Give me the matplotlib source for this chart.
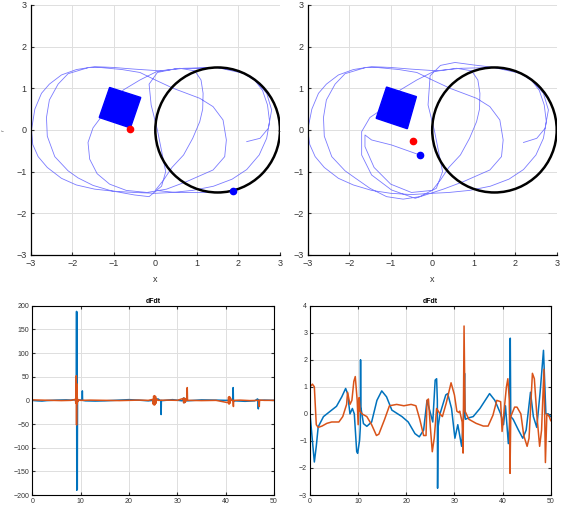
import matplotlib
matplotlib.use("Agg")
from matplotlib import pyplot as plt
from matplotlib.patches import Circle, Polygon

plt.rcParams['font.family'] = ['Liberation Sans', 'DejaVu Sans']

# --- trajectory, left run (x, y) ---
traj_a = [
    (2.2, -0.28), (2.52, -0.2), (2.72, 0.04), (2.8, 0.48), (2.68, 0.88), (2.44, 1.16),
    (2.12, 1.36), (1.48, 1.5), (0.68, 1.48), (0.1, 1.42), (-0.5, 1.46), (-1.0, 1.5),
    (-1.46, 1.52), (-1.9, 1.45), (-2.26, 1.32), (-2.55, 1.1), (-2.74, 0.88), (-2.9, 0.5),
    (-2.98, 0.0), (-2.95, -0.35), (-2.82, -0.64), (-2.6, -0.9), (-2.26, -1.16), (-1.9, -1.32),
    (-1.46, -1.42), (-1.0, -1.47), (-0.5, -1.5), (0.0, -1.52), (0.4, -1.5), (0.9, -1.45),
    (1.4, -1.35), (1.85, -1.18), (2.2, -0.95), (2.5, -0.6), (2.68, -0.2), (2.75, 0.2),
    (2.7, 0.6), (2.58, 0.95), (2.35, 1.25), (2.0, 1.42), (1.5, 1.5), (1.0, 1.48),
    (0.5, 1.47), (0.05, 1.38), (-0.15, 1.1), (-0.1, 0.6), (0.05, 0.0), (0.15, -0.5),
    (0.25, -1.0), (0.15, -1.35), (-0.15, -1.6), (-0.5, -1.56), (-1.06, -1.46), (-1.5, -1.33),
    (-1.86, -1.15), (-2.1, -0.98), (-2.42, -0.64), (-2.6, -0.15), (-2.62, 0.3), (-2.55, 0.72),
    (-2.34, 1.1), (-2.1, 1.35), (-1.6, 1.5), (-1.33, 1.5), (-0.8, 1.45), (-0.37, 1.38),
    (0.0, 1.2), (0.43, 1.0), (1.07, 0.76), (1.39, 0.56), (1.63, 0.24), (1.71, -0.24),
    (1.67, -0.64), (1.39, -0.96), (0.75, -1.24), (0.27, -1.42), (-0.2, -1.5), (-0.7, -1.45),
    (-1.1, -1.3), (-1.4, -1.05), (-1.58, -0.7), (-1.62, -0.3), (-1.5, 0.05), (-1.2, 0.45),
    (-0.77, 0.96), (-0.37, 1.2), (0.03, 1.4), (0.59, 1.48), (0.95, 1.42), (1.1, 1.2),
    (1.15, 0.88), (1.14, 0.5), (1.07, 0.2), (0.9, -0.2), (0.68, -0.6), (0.4, -0.9),
    (0.2, -1.2), (0.0, -1.45), (0.5, -1.5), (1.0, -1.5), (1.5, -1.5), (1.88, -1.46),
]

# --- trajectory, right run ---
traj_b = [
    (2.2, -0.3), (2.52, -0.2), (2.72, 0.04), (2.8, 0.48), (2.68, 0.88), (2.44, 1.16),
    (2.12, 1.36), (1.48, 1.5), (0.68, 1.48), (0.1, 1.42), (-0.5, 1.46), (-1.0, 1.5),
    (-1.46, 1.52), (-1.9, 1.45), (-2.26, 1.32), (-2.55, 1.1), (-2.74, 0.88), (-2.9, 0.5),
    (-3.0, 0.0), (-2.95, -0.35), (-2.82, -0.64), (-2.6, -0.9), (-2.26, -1.16), (-1.9, -1.32),
    (-1.46, -1.45), (-1.0, -1.52), (-0.5, -1.55), (0.0, -1.52), (0.4, -1.5), (0.9, -1.45),
    (1.4, -1.35), (1.85, -1.18), (2.2, -0.95), (2.5, -0.6), (2.68, -0.2), (2.75, 0.2),
    (2.7, 0.6), (2.58, 0.95), (2.35, 1.25), (2.0, 1.42), (1.5, 1.5), (1.0, 1.56),
    (0.55, 1.62), (0.2, 1.55), (-0.05, 1.3), (-0.1, 0.6), (0.05, 0.0), (0.15, -0.5),
    (0.25, -1.0), (0.1, -1.4), (-0.3, -1.6), (-0.7, -1.66), (-1.1, -1.6), (-1.5, -1.4),
    (-1.86, -1.15), (-2.1, -0.98), (-2.42, -0.64), (-2.6, -0.15), (-2.62, 0.3), (-2.55, 0.72),
    (-2.34, 1.1), (-2.1, 1.35), (-1.6, 1.5), (-1.33, 1.5), (-0.8, 1.45), (-0.37, 1.38),
    (0.0, 1.2), (0.43, 1.0), (1.07, 0.76), (1.39, 0.56), (1.63, 0.24), (1.71, -0.24),
    (1.67, -0.64), (1.39, -0.96), (0.75, -1.24), (0.27, -1.42), (-0.41, -1.64), (-0.98, -1.44),
    (-1.46, -1.08), (-1.7, -0.6), (-1.7, -0.04), (-1.5, 0.3), (-1.2, 0.5),
    (-0.77, 0.96), (-0.37, 1.2), (0.03, 1.4), (0.59, 1.48), (0.95, 1.42), (1.1, 1.2),
    (1.15, 0.88), (1.14, 0.5), (1.07, 0.2), (0.9, -0.2), (0.68, -0.6), (0.4, -0.9),
    (0.2, -1.2), (0.0, -1.45), (-0.5, -1.5), (-1.0, -1.3), (-1.4, -0.9), (-1.62, -0.4),
    (-1.62, -0.12), (-1.46, -0.24), (-0.98, -0.36), (-0.3, -0.6),
]

square_a = [(-1.35, 0.3), (-1.1, 1.02), (-0.35, 0.78), (-0.6, 0.05)]
square_b = [(-1.35, 0.28), (-1.1, 1.03), (-0.38, 0.8), (-0.6, 0.03)]
circle_center = (1.5, 0.0)
circle_radius = 1.5
red_a, blue_a = (-0.6, 0.02), (1.88, -1.46)
red_b, blue_b = (-0.47, -0.27), (-0.3, -0.6)

# --- dFdt, left run ---
t_a1 = [0, 1, 2, 3, 5, 7, 8, 8.8, 9.1, 9.15, 9.2, 9.25, 9.3, 9.35, 9.5, 10, 10.3, 10.35,
        10.4, 11, 13, 15, 18, 20, 22, 24, 25, 25.2, 25.3, 25.4, 25.5, 25.6, 26, 26.6,
        26.65, 26.7, 27, 29, 31, 31.3, 31.35, 31.4, 31.45, 31.5, 31.6, 32, 35, 38, 40,
        41.5, 41.55, 41.6, 42, 44, 46, 46.6, 46.7, 46.75, 46.8, 47, 48, 50]
v_a1 = [0, -1, -1.5, -0.5, 0.5, 1, 0.5, 1.5, -2, 188, -190, 186, -188, -2, 1, 0.5, 2, 20,
        0, -1, -1.5, -1, 0.5, 1.5, 0.5, -1, 0, 5, -6, 6, -5, 2, 3, -1,
        -30, 0, -0.5, 1.5, -1, 5, -5, 4, -4, 0, 1, -1, 1, 0.5, 0,
        0.5, 27, -2, -1, -2, -1, 3, -1, -18, 1, 0, 0.5, 0]
t_a2 = [0, 2, 4, 6, 8, 8.9, 9.0, 9.05, 9.1, 9.15, 9.2, 9.25, 9.3, 9.4, 9.5, 10, 12, 15,
        18, 20, 22, 24, 24.9, 25.0, 25.1, 25.2, 25.3, 25.4, 25.5, 25.6, 25.7, 26, 28, 30,
        31.2, 31.3, 31.4, 31.5, 31.6, 31.7, 31.8, 32.0, 32.05, 32.1, 32.2, 35, 38, 40.5,
        40.6, 40.7, 40.8, 40.9, 41.0, 41.1, 41.5, 41.6, 41.65, 41.7, 43, 45, 46.9, 46.95,
        47.0, 47.1, 48, 50]
v_a2 = [1, 0.5, 0, -0.5, 0, 2, -6, 8, 52, -52, 35, -8, 6, -3, 1, 0, 0.5, 0,
        -0.5, 0, 0.5, 0, 2, -8, 9, -10, 10, -9, 8, -6, 3, 0, 0.5, 0,
        4, -5, 5, -5, 4, -3, 1, 0, 27, 2, 0, -0.5, 0, -5,
        7, -8, 8, -6, 5, 0, 0, -13, -1, 0, 0.5, -0.5, 0, -13,
        0, 0.5, 0, 0]

# --- dFdt, right run ---
t_b1 = [0, 0.5, 0.9, 1.3, 1.7, 2.8, 4.5, 5.5, 6.6, 7.4, 7.8, 8.3, 8.8, 9.2, 9.7, 9.9,
        10.3, 10.45, 10.5, 10.55, 11.1, 11.8, 12.8, 13.9, 14.9, 15.9, 17.0, 19.1, 20.4,
        21.8, 22.7, 23.6, 24.3, 24.9, 25.5, 26.0, 26.3, 26.45, 26.5, 26.6, 27.0, 28.2,
        28.6, 29.4, 30.1, 30.7, 31.5, 31.9, 32.1, 32.2, 32.3, 32.9, 33.9, 35.3, 37.3,
        38.4, 39.6, 40.2, 40.6, 41.2, 41.5, 41.6, 41.7, 42.2, 43.3, 44.2, 44.9, 45.8,
        46.4, 47.1, 47.8, 48.5, 49.0, 49.5, 50]
v_b1 = [0, -1.0, -1.78, -1.2, -0.48, -0.1, 0.14, 0.28, 0.63, 0.94, 0.75, 0.0, 0.2, 0.0,
        -1.4, -1.46, -0.97, -0.5, 2.0, 0.26, -0.36, -0.46, -0.3, 0.5, 0.85, 0.63, 0.14,
        -0.1, -0.3, -0.73, -0.85, -0.6, 0.5, 0.1, -0.3, 1.25, 1.3, 0.5, -2.75, -0.5, 0.0,
        0.7, 0.75, 0.2, -0.9, -0.4, -1.2, -0.1, 1.5, -0.1, -0.2, -0.15, -0.1, 0.2, 0.75,
        0.5, 0.0, -0.4, 0.3, -1.1, -0.3, 2.8, -0.1, -0.2, -0.6, -0.9, -0.6, 0.8, -0.1,
        -0.5, 0.8, 2.35, 0.0, 0.0, -0.1]
t_b2 = [0, 0.5, 0.9, 1.3, 1.7, 2.5, 3.5, 4.5, 6.0, 6.8, 7.6, 7.8, 8.3, 8.7, 9.1, 9.4,
        9.8, 10.0, 10.2, 10.4, 10.8, 11.8, 12.8, 13.8, 14.3, 15.5, 16.5, 18, 19.5, 21,
        22.0, 22.8, 23.6, 24.1, 24.3, 24.6, 25.0, 25.4, 25.8, 26.3, 27, 27.5, 28.3, 29.3,
        30.0, 30.5, 30.9, 31.1, 31.6, 31.8, 32.0, 32.2, 33, 34.5, 36, 37, 38, 38.8, 39.6,
        39.9, 40.2, 40.8, 41.1, 41.4, 41.55, 41.7, 42.5, 43, 43.8, 44.4, 45.1, 45.5, 46.2,
        46.6, 47.1, 47.7, 48.1, 48.6, 48.9, 49.2, 49.7, 50]
v_b2 = [1.0, 1.1, 1.0, -0.4, -0.5, -0.45, -0.35, -0.3, -0.3, -0.1, 0.35, 0.8, 0.35, 0.5,
        1.2, 1.38, 0.5, -0.4, 0.6, 0.1, 0.0, -0.1, -0.4, -0.8, -0.75, -0.2, 0.3, 0.35,
        0.3, 0.35, 0.3, -0.2, -0.8, -0.8, 0.5, 0.55, -0.5, -1.4, -0.9, 0.2, 0.0, -0.1,
        0.4, 1.15, 0.7, 0.1, 0.05, 0.1, -0.3, -1.45, 3.25, 0.1, -0.2, -0.35, -0.45, -0.45,
        -0.05, 0.5, 0.45, -0.65, -0.1, 1.0, 1.3, 0.5, -2.2, -0.1, 0.25, 0.25, 0.0, -0.8,
        -1.2, -0.9, 1.5, 1.3, 0.0, -1.2, -0.6, 1.65, -1.8, 0.0, -0.1, -0.25]

blue = '#0072BD'
orange = '#D95319'
grid_c = '#dedede'

fig = plt.figure(figsize=(5.65, 5.12), dpi=100)


def top_axes(rect, traj, square, red, blue_pt):
    ax = fig.add_axes(rect)
    xs = [p[0] for p in traj]
    ys = [p[1] for p in traj]
    ax.plot(xs, ys, color=(0.35, 0.35, 1.0), lw=0.6, alpha=0.8, zorder=2,
            solid_joinstyle='round')
    ax.add_patch(Polygon(square, closed=True, color='#0000ff', zorder=3))
    ax.add_patch(Circle(circle_center, circle_radius, fill=False, color='black', lw=1.8, zorder=4))
    ax.plot(*red, 'o', color='red', ms=4.5, zorder=5)
    ax.plot(*blue_pt, 'o', color='#0000ff', ms=4.5, zorder=5)
    ax.set_xlim(-3, 3)
    ax.set_ylim(-3, 3)
    ax.set_xticks(range(-3, 4))
    ax.set_yticks(range(-3, 4))
    ax.grid(True, color=grid_c, lw=0.7)
    ax.set_axisbelow(True)
    for s in ['top', 'right']:
        ax.spines[s].set_visible(False)
    for s in ['left', 'bottom']:
        ax.spines[s].set_linewidth(0.9)
    ax.tick_params(direction='in', length=2, labelsize=6.5, colors='#333333', pad=3)
    ax.set_xlabel('x', fontsize=6.5, color='#333333', labelpad=5)
    ax.set_ylabel('y', fontsize=2, color='#333333', labelpad=8)
    return ax


def bottom_axes(rect, t1, v1, t2, v2, ylim, yticks):
    ax = fig.add_axes(rect)
    ax.plot(t1, v1, color=blue, lw=1.1)
    ax.plot(t2, v2, color=orange, lw=1.1)
    ax.set_xlim(0, 50)
    ax.set_ylim(*ylim)
    ax.set_yticks(yticks)
    ax.set_xticks(range(0, 51, 10))
    ax.grid(True, color=grid_c, lw=0.7)
    ax.set_axisbelow(True)
    for s in ax.spines.values():
        s.set_linewidth(0.8)
    ax.tick_params(direction='in', length=2, labelsize=5, colors='#333333', pad=2,
                   top=True, right=True)
    ax.set_title('dFdt', fontsize=5, fontweight='bold', pad=2)
    return ax


top_axes([0.0543, 0.502, 0.4412, 0.4883], traj_a, square_a, red_a, blue_a)
top_axes([0.5446, 0.502, 0.4407, 0.4883], traj_b, square_b, red_b, blue_b)
bottom_axes([0.0572, 0.0332, 0.4278, 0.3697], t_a1, v_a1, t_a2, v_a2,
            (-200, 200), range(-200, 201, 50))
bottom_axes([0.5487, 0.0332, 0.426, 0.3697], t_b1, v_b1, t_b2, v_b2,
            (-3, 4), range(-3, 5))

fig.savefig('out.png', dpi=100)
